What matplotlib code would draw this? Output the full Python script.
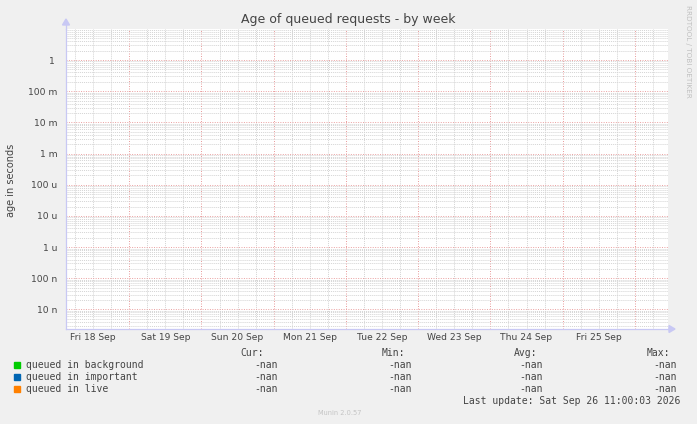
import datetime as dt
import numpy as np
import matplotlib
matplotlib.use("Agg")
import matplotlib.pyplot as plt
import matplotlib.dates as mdates

# ---------------- data ----------------
title = "Age of queued requests - by week"
ylabel = "age in seconds"
series_names = ["queued in background", "queued in important", "queued in live"]
series_colors = ["#00cc00", "#0066b3", "#ff8000"]
end_time = dt.datetime(2026, 9, 26, 11, 0, 3)
start_time = end_time - dt.timedelta(hours=200)
times = [start_time, end_time]
queued_background = [np.nan, np.nan]
queued_important = [np.nan, np.nan]
queued_live = [np.nan, np.nan]
cur_vals = ["-nan", "-nan", "-nan"]
min_vals = ["-nan", "-nan", "-nan"]
avg_vals = ["-nan", "-nan", "-nan"]
max_vals = ["-nan", "-nan", "-nan"]
xtick_days = [dt.datetime(2026, 9, d, 12, 0) for d in range(18, 26)]
xtick_labels = ["Fri 18 Sep", "Sat 19 Sep", "Sun 20 Sep", "Mon 21 Sep",
                "Tue 22 Sep", "Wed 23 Sep", "Thu 24 Sep", "Fri 25 Sep"]
ytick_vals = [1e-8, 1e-7, 1e-6, 1e-5, 1e-4, 1e-3, 1e-2, 1e-1, 1]
ytick_labels = ["10 n", "100 n", "1 u", "10 u", "100 u", "1 m", "10 m", "100 m", "1 "]
y_limits = (2.36e-9, 9.9)
last_update = "Last update: Sat Sep 26 11:00:03 2026"
munin_version = "Munin 2.0.57"
watermark = "RRDTOOL / TOBI OETIKER"

# ---------------- figure ----------------
W, H = 697, 424
BG = "#f0f0f0"
AXC = "#c8c8f4"
MAJ = "#eaa0a0"
MIN = "#d4d4d4"
TXT = "#444444"

fig = plt.figure(figsize=(W / 100, H / 100), dpi=100, facecolor=BG)
L, R, T, B = 66, 668, 29, 329
ax = fig.add_axes([L / W, 1 - B / H, (R - L) / W, (B - T) / H])
ax.set_facecolor("white")

for vals, c in zip([queued_background, queued_important, queued_live], series_colors):
    ax.plot(times, vals, color=c, lw=1)

ax.set_yscale("log")
ax.set_ylim(*y_limits)
ax.set_xlim(start_time, end_time)

# grid lines
ax.yaxis.set_major_locator(matplotlib.ticker.FixedLocator(ytick_vals))
ax.yaxis.set_minor_locator(matplotlib.ticker.LogLocator(base=10, subs=np.arange(2, 10), numticks=50))
ax.yaxis.set_minor_formatter(matplotlib.ticker.NullFormatter())
ax.set_yticklabels(ytick_labels)
ax.grid(True, which="minor", axis="y", color=MIN, lw=0.7, linestyle=(0, (1, 1)))
ax.grid(True, which="major", axis="y", color=MAJ, lw=0.7, linestyle=(0, (1, 1.5)))

# vertical grid derived from date locators
xmin, xmax = ax.get_xlim()
major_loc = mdates.DayLocator()
minor_loc = mdates.HourLocator(byhour=[6, 12, 18])
for v in minor_loc.tick_values(start_time, end_time):
    if xmin < v < xmax:
        ax.axvline(v, color=MIN, lw=0.7, linestyle=(0, (1, 1)), zorder=0.5, snap=True)
for v in major_loc.tick_values(start_time, end_time):
    if xmin < v < xmax:
        ax.axvline(v, color=MAJ, lw=0.72, linestyle=(0, (1, 1.5)), zorder=0.6, snap=True)

ax.set_xticks(mdates.date2num(xtick_days))
ax.set_xticklabels(xtick_labels)
ax.tick_params(axis="x", which="both", length=0, pad=3, labelsize=6.6, labelcolor=TXT)
ax.tick_params(axis="y", which="both", length=0, pad=6, labelsize=6.6, labelcolor=TXT)

for s in ["top", "right"]:
    ax.spines[s].set_visible(False)
for s in ["left", "bottom"]:
    ax.spines[s].set_color(AXC)
    ax.spines[s].set_linewidth(0.9)

def fx(x):
    return x / W
def fy(y):
    return 1 - y / H

# arrows
fig.patches.append(plt.Polygon([[fx(62.5), fy(25)], [fx(69.5), fy(25)], [fx(66), fy(19)]],
                               closed=True, transform=fig.transFigure, color=AXC))
fig.add_artist(plt.Line2D([fx(66), fx(66)], [fy(29), fy(24)], color=AXC, lw=0.9))
fig.patches.append(plt.Polygon([[fx(669), fy(325.5)], [fx(669), fy(332.5)], [fx(675), fy(329)]],
                               closed=True, transform=fig.transFigure, color=AXC))
fig.add_artist(plt.Line2D([fx(668), fx(670)], [fy(329), fy(329)], color=AXC, lw=0.9))

# texts
fig.text(fx(348), fy(19), title, ha="center", va="center", fontsize=9, color=TXT)
fig.text(fx(11), fy(180), ylabel, ha="center", va="center", rotation=90, fontsize=7, color=TXT)
fig.text(fx(688), fy(5), watermark, ha="center", va="top", rotation=270, fontsize=5.2, color="#c0c0c0")
fig.text(fx(340), fy(413), munin_version, ha="center", va="center", fontsize=4.8, color="#c4c4c4")

mono = "DejaVu Sans Mono"
fs = 7
hdr_y = 352.5
row_y = [364.7, 376.8, 388.7]
cols = [("Cur:", 264, 278, cur_vals), ("Min:", 405, 412, min_vals),
        ("Avg:", 537, 543, avg_vals), ("Max:", 670, 677, max_vals)]
for head, hx, vx, vals in cols:
    fig.text(fx(hx), fy(hdr_y), head, ha="right", va="center", family=mono, fontsize=fs, color=TXT)
    for yv, v in zip(row_y, vals):
        fig.text(fx(vx), fy(yv), v, ha="right", va="center", family=mono, fontsize=fs, color=TXT)
for yv, name, c in zip(row_y, series_names, series_colors):
    fig.patches.append(plt.Rectangle((fx(14), fy(yv + 3)), 6 / W, 6 / H,
                                     transform=fig.transFigure, color=c))
    fig.text(fx(26), fy(yv), name, ha="left", va="center", family=mono, fontsize=fs, color=TXT)
fig.text(fx(680), fy(400.5), last_update, ha="right", va="center", family=mono, fontsize=fs, color=TXT)

fig.savefig("out.png", dpi=100, facecolor=BG)
